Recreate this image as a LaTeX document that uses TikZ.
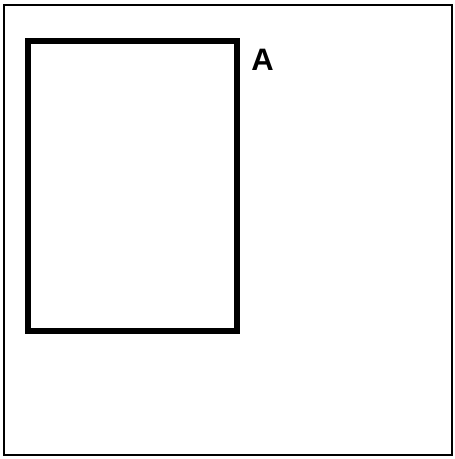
\documentclass[tikz,border=0pt]{standalone}
\usepackage{fontspec}
\setmainfont{Liberation Sans}
\usetikzlibrary{positioning}

\begin{document}
\begin{tikzpicture}[x=1pt, y=-1pt]
      \useasboundingbox (0,0) rectangle (455,459);
      \draw[line width=2.6pt] (4,5) rectangle (452,455);
      \node[draw, line width=6.5pt, minimum width=209pt, minimum height=290pt, inner sep=0pt] (frame) at (132.5,186) {};
      \node[inner sep=0pt] (labelA) at (262.5,60) {\fontsize{31}{31}\selectfont\bfseries A};
    \end{tikzpicture}
\end{document}
